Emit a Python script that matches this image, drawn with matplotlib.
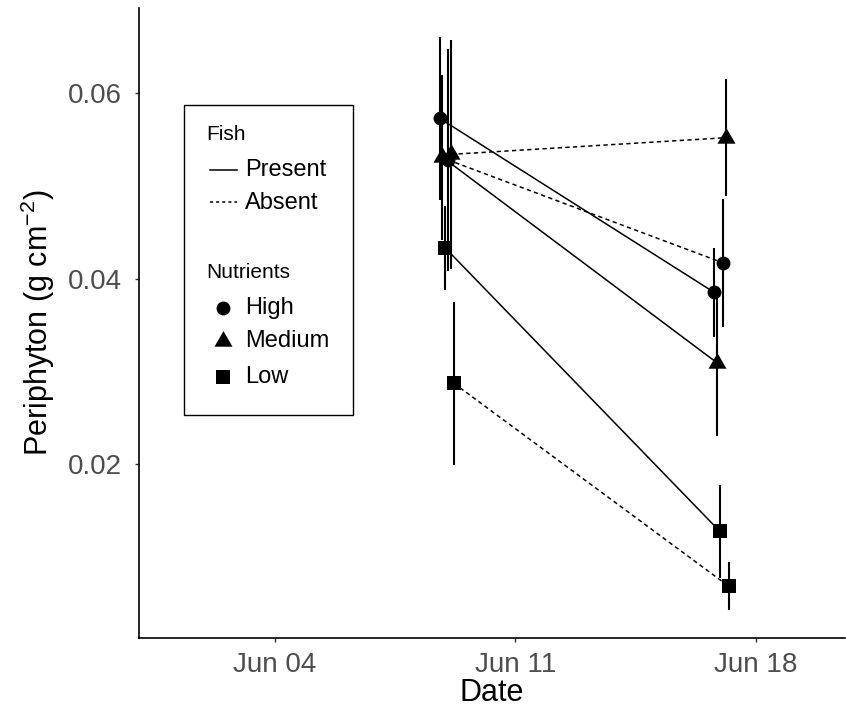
import numpy as np
import matplotlib
matplotlib.use("Agg")
import matplotlib.pyplot as plt
import matplotlib.dates as mdates
from matplotlib.lines import Line2D
from matplotlib.patches import Rectangle

plt.rcParams['font.family'] = ['Liberation Sans', 'DejaVu Sans']
plt.rcParams['mathtext.fontset'] = 'custom'
plt.rcParams['mathtext.rm'] = 'Liberation Sans'
plt.rcParams['mathtext.default'] = 'regular'

# ---- data ----
dates = ['2016-06-09', '2016-06-17']
fish = ['Present', 'Present', 'Present', 'Absent', 'Absent', 'Absent']
nutrients = ['High', 'Medium', 'Low', 'High', 'Medium', 'Low']
mean_jun09 = [0.0573, 0.0531, 0.0433, 0.0528, 0.0534, 0.0287]
mean_jun17 = [0.0385, 0.0309, 0.0127, 0.0417, 0.0552, 0.0068]
err_jun09 = [0.0088, 0.0089, 0.0045, 0.0120, 0.0124, 0.0088]
err_jun17 = [0.0048, 0.0079, 0.0050, 0.0069, 0.0063, 0.0026]
dodge_width = 0.5  # days

markers = {'High': 'o', 'Medium': (3, 0, 0), 'Low': 's'}
msizes = {'High': 10, 'Medium': 15, 'Low': 10}
lstyles = {'Present': '-', 'Absent': (0, (2.8, 2.2))}

W, H = 846, 713
fig = plt.figure(figsize=(W / 100, H / 100), dpi=100)
L, R, T, B = 139, 845, 8, 638
ax = fig.add_axes([L / W, 1 - B / H, (R - L) / W, (B - T) / H])

base = mdates.date2num(np.array(dates, dtype='datetime64[D]'))
n = len(fish)
for i in range(n):
    off = (i - (n - 1) / 2) * dodge_width / n
    x = base + off
    y = [mean_jun09[i], mean_jun17[i]]
    e = [err_jun09[i], err_jun17[i]]
    ax.plot(x, y, color='black', lw=1.1, ls=lstyles[fish[i]], zorder=2)
    ax.errorbar(x, y, yerr=e, fmt='none', ecolor='black', elinewidth=1.5,
                capsize=0, zorder=3)
    ax.plot(x, y, ls='none', marker=markers[nutrients[i]],
            ms=msizes[nutrients[i]], color='black', mec='black', mew=0,
            zorder=4)

x0 = mdates.date2num(np.datetime64('2016-06-04'))
ax.set_xlim(x0 - 3.96, x0 + 16.6)
ax.set_ylim(0.0012, 0.0692)
ax.set_yticks([0.02, 0.04, 0.06])
ax.set_yticklabels(['0.02', '0.04', '0.06'])
ax.set_xticks(mdates.date2num(np.array(['2016-06-04', '2016-06-11', '2016-06-18'], dtype='datetime64[D]')))
ax.xaxis.set_major_formatter(mdates.DateFormatter('%b %d'))

for s in ['top', 'right']:
    ax.spines[s].set_visible(False)
for s in ['left', 'bottom']:
    ax.spines[s].set_linewidth(1.2)
ax.tick_params(axis='both', length=3, width=1.0, color='#333333',
               labelsize=20, labelcolor='#4D4D4D')
ax.tick_params(axis='x', pad=7)
ax.tick_params(axis='y', pad=9)

ax.set_xlabel('Date', fontsize=22, color='black')
ax.set_ylabel('Periphyton (g cm$^{-2}$)', fontsize=22, color='black')
ax.xaxis.set_label_coords(0.5, (B - 693) / (B - T))
ax.xaxis.label.set_va('center')
ax.yaxis.set_label_coords((38 - L) / (R - L), 0.5)
ax.yaxis.label.set_va('center')

# ---- legend (drawn in figure pixel coordinates) ----
def fx(px):
    return px / W

def fy(py):
    return 1 - py / H

ft = fig.transFigure
fig.patches.append(Rectangle((fx(184), fy(415)), fx(352.7) - fx(184), fy(105) - fy(415),
                             transform=ft, fill=False, ec='black', lw=1.0))
fig.text(fx(206.5), fy(135), 'Fish', fontsize=15, va='center', ha='left')
fig.lines.append(Line2D([fx(210), fx(237)], [fy(170), fy(170)], transform=ft,
                        color='black', lw=1.1, ls='-'))
fig.text(fx(245), fy(170), 'Present', fontsize=17, va='center', ha='left')
fig.lines.append(Line2D([fx(210), fx(237)], [fy(202), fy(202)], transform=ft,
                        color='black', lw=1.1, ls=(0, (2.0, 2.0))))
fig.text(fx(245), fy(203), 'Absent', fontsize=17, va='center', ha='left')
fig.text(fx(206.5), fy(273), 'Nutrients', fontsize=15, va='center', ha='left')
for lab, py in [('High', 308), ('Medium', 341), ('Low', 377)]:
    fig.lines.append(Line2D([fx(222.7)], [fy(py)], transform=ft, ls='none',
                            marker=markers[lab], ms=msizes[lab], color='black', mew=0))
    fig.text(fx(245), fy(py), lab, fontsize=17, va='center', ha='left')

fig.savefig('out.png', dpi=100)
